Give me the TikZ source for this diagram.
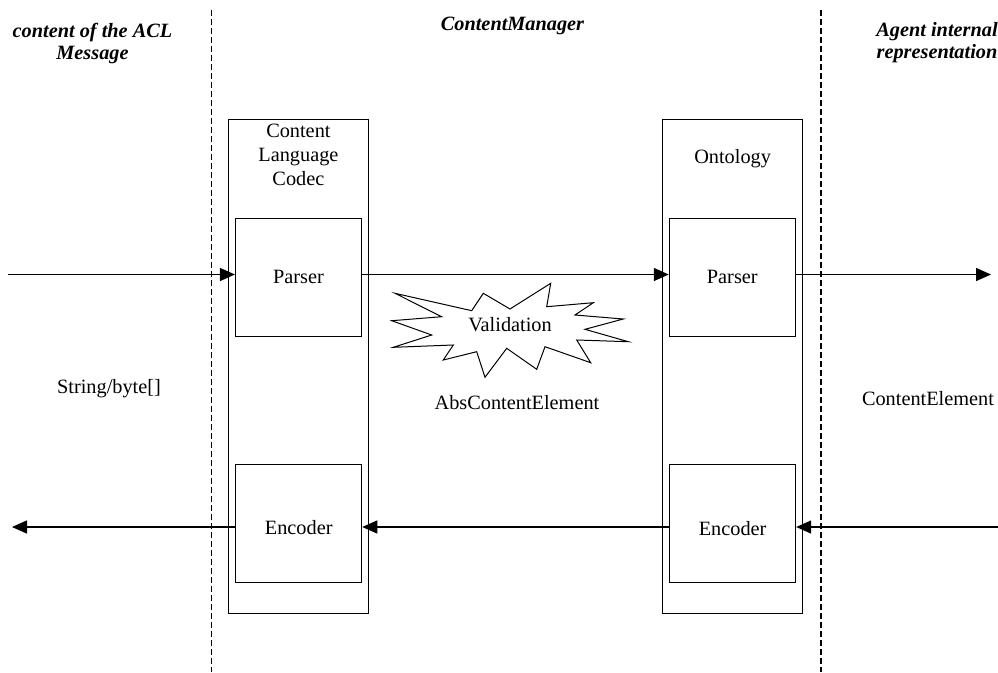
\documentclass[tikz,border=0pt]{standalone}
\usepackage{fontspec}
\setmainfont{Liberation Serif}
\usetikzlibrary{arrows.meta,positioning}
\begin{document}
\begin{tikzpicture}[x=1pt,y=-1pt,>={Triangle[length=15pt,width=13pt]},
  every node/.style={font=\fontsize{20.3}{23.8}\selectfont,inner sep=0pt},
  outbox/.style={draw,line width=1.1pt,minimum width=140pt,minimum height=494pt},
  inbox/.style={draw,line width=1.1pt,minimum width=126pt,minimum height=118pt},
  head/.style={font=\fontsize{20.3}{21.5}\selectfont\bfseries\itshape,align=center,anchor=north},
  arr/.style={->,line width=1.4pt},
  sep/.style={dash pattern=on 6pt off 3pt,line width=1.1pt}]
\useasboundingbox (0,0) rectangle (998,672);
\coordinate (l1) at (211.7,10); \coordinate (l2) at (211.7,672);
\coordinate (r1) at (821,10); \coordinate (r2) at (821,672);
\draw[sep] (l1) -- (l2);
\draw[sep] (r1) -- (r2);
\node[head] (h1) at (92.5,23.4) {content of the ACL\\Message};
\node[head] (h2) at (512.5,17.3) {ContentManager};
\node[head] (h3) at (937,22.3) {Agent internal\\representation};
\node[outbox] (cod) at (298.4,366.3) {};
\node[outbox] (ont) at (732.6,366.3) {};
\node[below=5.3pt of cod.north,align=center] (codt) {Content\\Language\\Codec};
\node[below=30.3pt of ont.north] (ontt) {Ontology};
\node[inbox] (cpar) at (298.5,277.2) {Parser};
\node[inbox,text height=23pt] (cenc) at (298.7,523.5) {Encoder};
\node[inbox] (opar) at (732.3,277.2) {Parser};
\node[inbox,text height=23pt] (oenc) at (732.6,523.8) {Encoder};
\draw[line width=1pt,line join=miter] (395,293.3) -- (471.7,310.7) -- (483.3,293.3) -- (510,309) -- (550.7,283.3) -- (546.7,306.7) -- (593.3,302.7) -- (575,315) -- (623.3,319) -- (585,329.3) -- (628.3,341.7) -- (576.7,340) -- (590.7,362.7) -- (545,346.7) -- (536.7,369.3) -- (506.7,348.3) -- (485,377.3) -- (476.7,351.7) -- (443.3,360) -- (453.3,345) -- (393.3,347.3) -- (431.7,335) -- (391.7,320.7) -- (441.7,316.7) -- cycle;
\node[anchor=base] (val) at (510,331.7) {Validation};
\node[anchor=base] (abs) at (517,409.3) {AbsContentElement};
\node[anchor=base] (str) at (109,393.3) {String/byte[]};
\node[anchor=base] (cel) at (928,405) {ContentElement};
\coordinate (in1) at (8,274.5); \coordinate (out1) at (991,274.5);
\coordinate (in2) at (998,527); \coordinate (out2) at (12,527);
\draw[arr] (in1) -- (in1 -| cpar.west);
\draw[arr] (in1 -| cpar.east) -- (in1 -| opar.west);
\draw[arr] (in1 -| opar.east) -- (out1);
\draw[arr] (in2) -- (in2 -| oenc.east);
\draw[arr] (in2 -| oenc.west) -- (in2 -| cenc.east);
\draw[arr] (in2 -| cenc.west) -- (out2);
\end{tikzpicture}
\end{document}
